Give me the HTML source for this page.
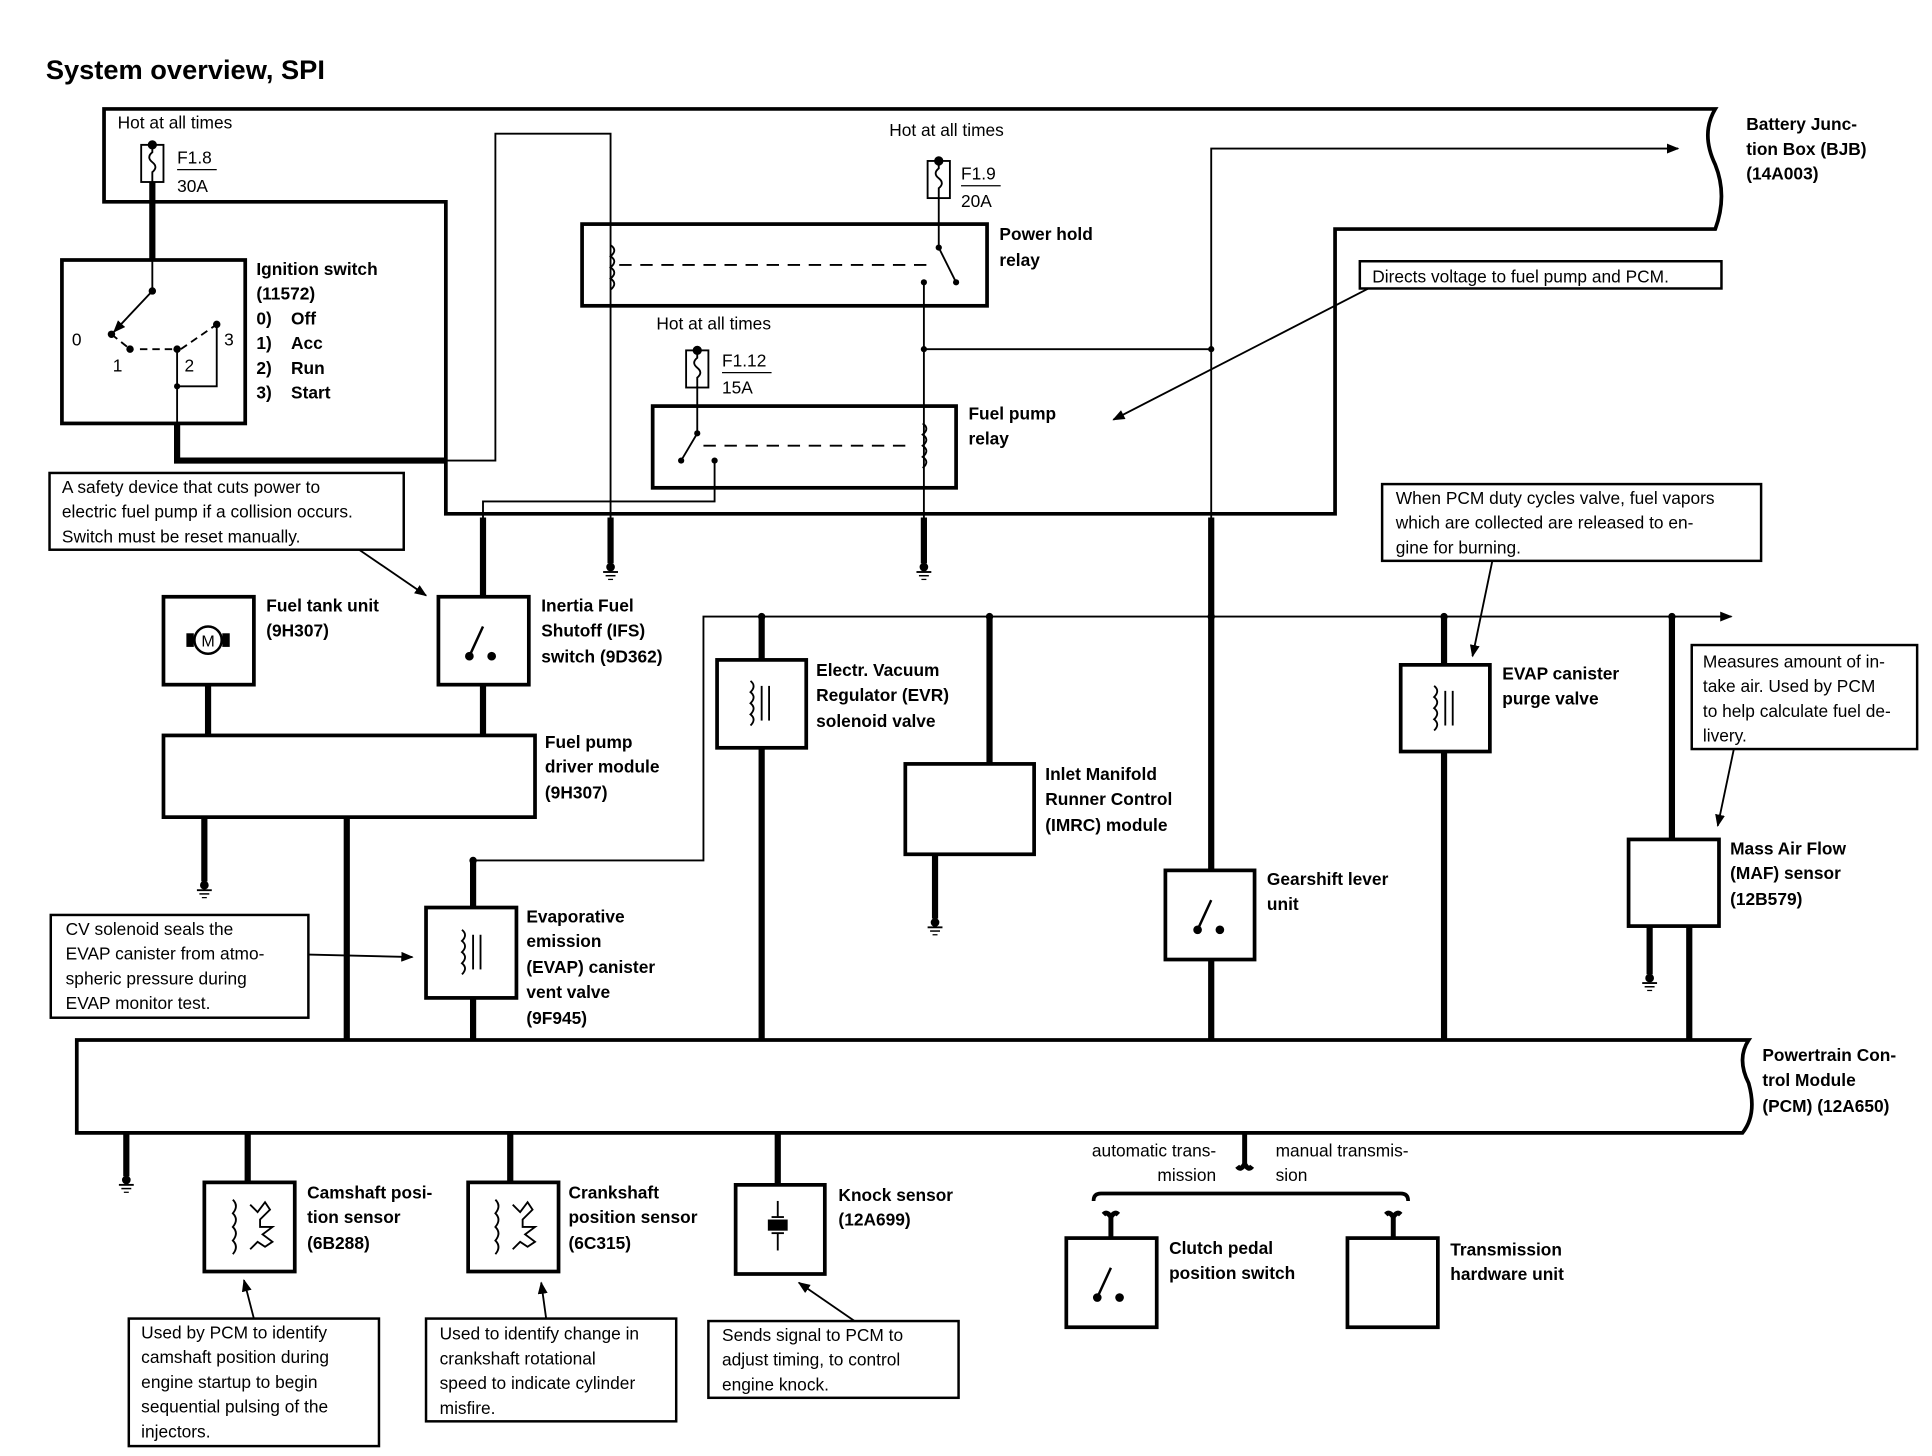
<!DOCTYPE html>
<html><head><meta charset="utf-8"><style>
html,body{margin:0;padding:0;background:#fff;width:1932px;height:1456px;overflow:hidden}
svg{display:block}
text{font-family:"Liberation Sans",Arial,sans-serif;font-size:14px;fill:#000}
.b{font-weight:bold}
</style></head><body>
<svg width="1932" height="1456" viewBox="0 0 1560 1176" preserveAspectRatio="none" xmlns="http://www.w3.org/2000/svg">
<defs>
<g id="gnd"><circle cx="0" cy="0" r="3.5" fill="#000"/><line x1="-6" y1="4" x2="6" y2="4" stroke="#000" stroke-width="1.5"/><line x1="-4" y1="7" x2="4" y2="7" stroke="#000" stroke-width="1.2"/><line x1="-2" y1="10" x2="2" y2="10" stroke="#000" stroke-width="1"/></g>
<g id="sw" fill="none" stroke="#000" stroke-width="2"><line x1="-8" y1="12" x2="3" y2="-12"/><circle cx="-8" cy="12" r="2.5" fill="#000"/><circle cx="10" cy="12" r="2.5" fill="#000"/></g>
<g id="sol" fill="none" stroke="#000" stroke-width="1.5"><path d="M-6,-18 q5,4 0,9 q5,4 0,9 q5,4 0,9 q5,4 0,9"/><line x1="3" y1="-14" x2="3" y2="14"/><line x1="9" y1="-14" x2="9" y2="14"/></g>
<g id="fuse" fill="none" stroke="#000" stroke-width="1.5"><rect x="-9" y="0" width="18" height="30"/><path d="M0,-2 v8 q-5,4 0,8 q5,4 0,8 v8"/><circle cx="0" cy="0" r="3" fill="#000"/></g>
<g id="hall" fill="none" stroke="#000" stroke-width="1.5"><path d="M-12,-22 q5,5 0,11 q5,5 0,11 q5,5 0,11 q5,5 0,11"/><path d="M2,-18 l6,6 l6,-8 l4,6 l-8,8 v6 h10 l-8,6 l8,6 l-6,4 l-6,-4 l-6,6"/></g>
<marker id="ar" markerWidth="10" markerHeight="8" refX="9" refY="4" orient="auto" markerUnits="userSpaceOnUse"><path d="M0,0 L10,4 L0,8 z" fill="#000"/></marker>
</defs>
<rect width="1560" height="1176" fill="#fff"/>
<text x="37" y="64" class="b" style="font-size:22px">System overview, SPI</text>

<g fill="none" stroke="#000">
<path d="M84,88 H1385 q-12,20 0,45 q10,25 0,52 H1078 V415 H360 V163 H84 Z" stroke-width="3"/>
<rect x="50" y="210" width="148" height="132" stroke-width="3"/>
<line x1="123" y1="147" x2="123" y2="210" stroke-width="5"/>
<line x1="123" y1="210" x2="123" y2="235" stroke-width="1.5"/>
<line x1="123" y1="235" x2="92" y2="268" stroke-width="1.5" marker-end="url(#ar)"/>
<path d="M90,270 L105,282 M113,282 H140 M146,282 L175,262" stroke-width="1.5" stroke-dasharray="6,4"/>
<path d="M143,282 V312 H175 V262" stroke-width="1.5"/>
<line x1="143" y1="312" x2="143" y2="342" stroke-width="1.5"/>
<path d="M143,342 V372 H360" stroke-width="5"/>
<path d="M360,372 H400 V108 H493 V418" stroke-width="1.5"/>
<line x1="493" y1="418" x2="493" y2="455" stroke-width="5"/>
<rect x="470" y="181" width="327" height="66" stroke-width="3"/>
<path d="M493,198 q6,4 0,9 q6,4 0,9 q6,4 0,9 q6,4 0,9" stroke-width="1.5"/>
<line x1="500" y1="214" x2="755" y2="214" stroke-width="1.5" stroke-dasharray="10,7"/>
<path d="M758,160 V200 L772,228" stroke-width="1.5"/>
<path d="M746,228 V418" stroke-width="1.5"/>
<line x1="746" y1="418" x2="746" y2="455" stroke-width="5"/>
<path d="M746,282 H978" stroke-width="1.5"/>
<path d="M978,418 V120 H1355" stroke-width="1.5" marker-end="url(#ar)"/>
<line x1="978" y1="418" x2="978" y2="840" stroke-width="5"/>
<rect x="527" y="328" width="245" height="66" stroke-width="3"/>
<path d="M563,312 V350 L550,372" stroke-width="1.5"/>
<line x1="568" y1="360" x2="738" y2="360" stroke-width="1.5" stroke-dasharray="10,7"/>
<path d="M745,342 q6,4 0,9 q6,4 0,9 q6,4 0,9 q6,4 0,9" stroke-width="1.5"/>
<path d="M577,372 V405 H390 V418" stroke-width="1.5"/>
<line x1="390" y1="418" x2="390" y2="482" stroke-width="5"/>
<rect x="1098" y="211" width="292" height="22" stroke-width="2"/>
<line x1="1105" y1="233" x2="899" y2="339" stroke-width="1.5" marker-end="url(#ar)"/>
<rect x="40" y="382" width="286" height="62" stroke-width="2"/>
<line x1="290" y1="444" x2="344" y2="481" stroke-width="1.5" marker-end="url(#ar)"/>
<rect x="132" y="482" width="73" height="71" stroke-width="3"/>
<circle cx="168" cy="517" r="11" stroke-width="2"/>
<rect x="151" y="512" width="5" height="10" fill="#000"/><rect x="180" y="512" width="5" height="10" fill="#000"/>
<rect x="354" y="482" width="73" height="71" stroke-width="3"/>
<line x1="168" y1="553" x2="168" y2="594" stroke-width="5"/>
<line x1="390" y1="553" x2="390" y2="594" stroke-width="5"/>
<rect x="132" y="594" width="300" height="66" stroke-width="3"/>
<line x1="165" y1="660" x2="165" y2="712" stroke-width="5"/>
<line x1="280" y1="660" x2="280" y2="840" stroke-width="5"/>
<path d="M382,695 H568 V498 H1398" stroke-width="1.5" marker-end="url(#ar)"/>
<line x1="382" y1="695" x2="382" y2="733" stroke-width="5"/>
<line x1="615" y1="498" x2="615" y2="840" stroke-width="5"/>
<rect x="579" y="533" width="72" height="71" stroke-width="3" fill="#fff"/>
<line x1="799" y1="498" x2="799" y2="617" stroke-width="5"/>
<rect x="731" y="617" width="104" height="73" stroke-width="3"/>
<line x1="755" y1="690" x2="755" y2="742" stroke-width="5"/>
<rect x="941" y="703" width="72" height="72" stroke-width="3" fill="#fff"/>
<line x1="1166" y1="498" x2="1166" y2="840" stroke-width="5"/>
<rect x="1131" y="537" width="72" height="70" stroke-width="3" fill="#fff"/>
<rect x="1116" y="391" width="306" height="62" stroke-width="2"/>
<line x1="1205" y1="453" x2="1189" y2="530" stroke-width="1.5" marker-end="url(#ar)"/>
<rect x="1366" y="521" width="182" height="84" stroke-width="2"/>
<line x1="1400" y1="605" x2="1387" y2="667" stroke-width="1.5" marker-end="url(#ar)"/>
<line x1="1350" y1="498" x2="1350" y2="678" stroke-width="5"/>
<rect x="1315" y="678" width="73" height="70" stroke-width="3"/>
<line x1="1332" y1="748" x2="1332" y2="787" stroke-width="5"/>
<line x1="1364" y1="748" x2="1364" y2="840" stroke-width="5"/>
<rect x="344" y="733" width="73" height="73" stroke-width="3"/>
<line x1="382" y1="806" x2="382" y2="840" stroke-width="5"/>
<rect x="41" y="739" width="208" height="83" stroke-width="2"/>
<line x1="249" y1="771" x2="333" y2="773" stroke-width="1.5" marker-end="url(#ar)"/>
<path d="M62,840 H1412 q-10,15 0,35 q7,25 -5,40 H62 Z" stroke-width="3"/>
<line x1="102" y1="915" x2="102" y2="950" stroke-width="5"/>
<line x1="200" y1="915" x2="200" y2="955" stroke-width="5"/>
<rect x="165" y="955" width="73" height="72" stroke-width="3"/>
<line x1="412" y1="915" x2="412" y2="955" stroke-width="5"/>
<rect x="378" y="955" width="73" height="72" stroke-width="3"/>
<line x1="628" y1="915" x2="628" y2="957" stroke-width="5"/>
<rect x="594" y="957" width="72" height="72" stroke-width="3"/>
<rect x="104" y="1065" width="202" height="103" stroke-width="2"/>
<line x1="205" y1="1065" x2="197" y2="1034" stroke-width="1.5" marker-end="url(#ar)"/>
<rect x="344" y="1065" width="202" height="83" stroke-width="2"/>
<line x1="441" y1="1065" x2="437" y2="1036" stroke-width="1.5" marker-end="url(#ar)"/>
<rect x="572" y="1067" width="202" height="62" stroke-width="2"/>
<line x1="690" y1="1067" x2="645" y2="1036" stroke-width="1.5" marker-end="url(#ar)"/>
<path d="M1005,915 V940 q-3,6 -6,2 M1005,940 q3,6 6,2" stroke-width="4"/>
<path d="M883,970 q0,-6 6,-6 H1131 q6,0 6,6" stroke-width="3"/>
<path d="M897,1000 V983 q-3,-5 -6,-2 M897,983 q3,-5 6,-2" stroke-width="4"/>
<path d="M1125,1000 V983 q-3,-5 -6,-2 M1125,983 q3,-5 6,-2" stroke-width="4"/>
<rect x="861" y="1000" width="73" height="72" stroke-width="3"/>
<rect x="1088" y="1000" width="73" height="72" stroke-width="3"/>
<line x1="143" y1="137" x2="175" y2="137" stroke-width="1"/>
<line x1="776" y1="150" x2="808" y2="150" stroke-width="1"/>
<line x1="583" y1="301" x2="623" y2="301" stroke-width="1"/>
</g>
<g fill="#000">
<circle cx="123" cy="235" r="3"/><circle cx="90" cy="270" r="3"/><circle cx="105" cy="282" r="3"/><circle cx="143" cy="282" r="3"/><circle cx="175" cy="262" r="3"/><circle cx="143" cy="312" r="2.5"/>
<circle cx="746" cy="282" r="2.5"/><circle cx="978" cy="282" r="2.5"/><circle cx="746" cy="228" r="2.5"/><circle cx="758" cy="200" r="2.5"/><circle cx="772" cy="228" r="2.5"/>
<circle cx="563" cy="350" r="2.5"/><circle cx="550" cy="372" r="2.5"/><circle cx="577" cy="372" r="2.5"/>
<circle cx="615" cy="498" r="3"/><circle cx="799" cy="498" r="3"/><circle cx="978" cy="498" r="3"/><circle cx="1166" cy="498" r="3"/><circle cx="1350" cy="498" r="3"/><circle cx="382" cy="695" r="3"/>
<rect x="620" y="985" width="16" height="9"/>
</g>
<line x1="628" y1="970" x2="628" y2="983" stroke="#000" stroke-width="1.5"/><line x1="623" y1="983" x2="633" y2="983" stroke="#000" stroke-width="1.5"/>
<line x1="628" y1="996" x2="628" y2="1010" stroke="#000" stroke-width="1.5"/><line x1="623" y1="996" x2="633" y2="996" stroke="#000" stroke-width="1.5"/>
<use href="#fuse" x="123" y="117"/><use href="#fuse" x="758" y="130"/><use href="#fuse" x="563" y="283"/>
<use href="#gnd" x="493" y="458"/><use href="#gnd" x="746" y="458"/><use href="#gnd" x="165" y="715"/><use href="#gnd" x="755" y="745"/><use href="#gnd" x="1332" y="790"/><use href="#gnd" x="102" y="953"/>
<use href="#sw" x="387" y="518"/><use href="#sw" x="975" y="739"/><use href="#sw" x="894" y="1036"/>
<use href="#sol" x="612" y="568"/><use href="#sol" x="1164" y="572"/><use href="#sol" x="379" y="769"/>
<use href="#hall" x="200" y="991"/><use href="#hall" x="412" y="991"/>

<text x="168" y="522" text-anchor="middle" style="font-size:13px">M</text>
<text x="95" y="104">Hot at all times</text>
<text x="143" y="132">F1.8</text><text x="143" y="155">30A</text>
<text x="718" y="110">Hot at all times</text>
<text x="776" y="145">F1.9</text><text x="776" y="167">20A</text>
<text x="530" y="266">Hot at all times</text>
<text x="583" y="296">F1.12</text><text x="583" y="318">15A</text>
<text class="b" x="807" y="194">Power hold</text><text class="b" x="807" y="215">relay</text>
<text class="b" x="782" y="339">Fuel pump</text><text class="b" x="782" y="359">relay</text>
<text class="b" x="1410" y="105">Battery Junc-</text><text class="b" x="1410" y="125">tion Box (BJB)</text><text class="b" x="1410" y="145">(14A003)</text>
<text x="1108" y="228">Directs voltage to fuel pump and PCM.</text>
<text class="b" x="207" y="222">Ignition switch</text><text class="b" x="207" y="242">(11572)</text>
<text class="b" x="207" y="262">0)</text><text class="b" x="235" y="262">Off</text>
<text class="b" x="207" y="282">1)</text><text class="b" x="235" y="282">Acc</text>
<text class="b" x="207" y="302">2)</text><text class="b" x="235" y="302">Run</text>
<text class="b" x="207" y="322">3)</text><text class="b" x="235" y="322">Start</text>
<text x="58" y="279">0</text><text x="91" y="300">1</text><text x="149" y="300">2</text><text x="181" y="279">3</text>
<text x="50" y="398">A safety device that cuts power to</text><text x="50" y="418">electric fuel pump if a collision occurs.</text><text x="50" y="438">Switch must be reset manually.</text>
<text class="b" x="215" y="494">Fuel tank unit</text><text class="b" x="215" y="514">(9H307)</text>
<text class="b" x="437" y="494">Inertia Fuel</text><text class="b" x="437" y="514">Shutoff (IFS)</text><text class="b" x="437" y="535">switch (9D362)</text>
<text class="b" x="440" y="604">Fuel pump</text><text class="b" x="440" y="624">driver module</text><text class="b" x="440" y="645">(9H307)</text>
<text class="b" x="659" y="546">Electr. Vacuum</text><text class="b" x="659" y="566">Regulator (EVR)</text><text class="b" x="659" y="587">solenoid valve</text>
<text class="b" x="844" y="630">Inlet Manifold</text><text class="b" x="844" y="650">Runner Control</text><text class="b" x="844" y="671">(IMRC) module</text>
<text class="b" x="1023" y="715">Gearshift lever</text><text class="b" x="1023" y="735">unit</text>
<text x="1127" y="407">When PCM duty cycles valve, fuel vapors</text><text x="1127" y="427">which are collected are released to en-</text><text x="1127" y="447">gine for burning.</text>
<text class="b" x="1213" y="549">EVAP canister</text><text class="b" x="1213" y="569">purge valve</text>
<text x="1375" y="539">Measures amount of in-</text><text x="1375" y="559">take air. Used by PCM</text><text x="1375" y="579">to help calculate fuel de-</text><text x="1375" y="599">livery.</text>
<text class="b" x="1397" y="690">Mass Air Flow</text><text class="b" x="1397" y="710">(MAF) sensor</text><text class="b" x="1397" y="731">(12B579)</text>
<text class="b" x="425" y="745">Evaporative</text><text class="b" x="425" y="765">emission</text><text class="b" x="425" y="786">(EVAP) canister</text><text class="b" x="425" y="806">vent valve</text><text class="b" x="425" y="827">(9F945)</text>
<text x="53" y="755">CV solenoid seals the</text><text x="53" y="775">EVAP canister from atmo-</text><text x="53" y="795">spheric pressure during</text><text x="53" y="815">EVAP monitor test.</text>
<text class="b" x="1423" y="857">Powertrain Con-</text><text class="b" x="1423" y="877">trol Module</text><text class="b" x="1423" y="898">(PCM) (12A650)</text>
<text class="b" x="248" y="968">Camshaft posi-</text><text class="b" x="248" y="988">tion sensor</text><text class="b" x="248" y="1009">(6B288)</text>
<text class="b" x="459" y="968">Crankshaft</text><text class="b" x="459" y="988">position sensor</text><text class="b" x="459" y="1009">(6C315)</text>
<text class="b" x="677" y="970">Knock sensor</text><text class="b" x="677" y="990">(12A699)</text>
<text x="114" y="1081">Used by PCM to identify</text><text x="114" y="1101">camshaft position during</text><text x="114" y="1121">engine startup to begin</text><text x="114" y="1141">sequential pulsing of the</text><text x="114" y="1161">injectors.</text>
<text x="355" y="1082">Used to identify change in</text><text x="355" y="1102">crankshaft rotational</text><text x="355" y="1122">speed to indicate cylinder</text><text x="355" y="1142">misfire.</text>
<text x="583" y="1083">Sends signal to PCM to</text><text x="583" y="1103">adjust timing, to control</text><text x="583" y="1123">engine knock.</text>
<text x="982" y="934" text-anchor="end">automatic trans-</text><text x="982" y="954" text-anchor="end">mission</text>
<text x="1030" y="934">manual transmis-</text><text x="1030" y="954">sion</text>
<text class="b" x="944" y="1013">Clutch pedal</text><text class="b" x="944" y="1033">position switch</text>
<text class="b" x="1171" y="1014">Transmission</text><text class="b" x="1171" y="1034">hardware unit</text>
</svg>
</body></html>
